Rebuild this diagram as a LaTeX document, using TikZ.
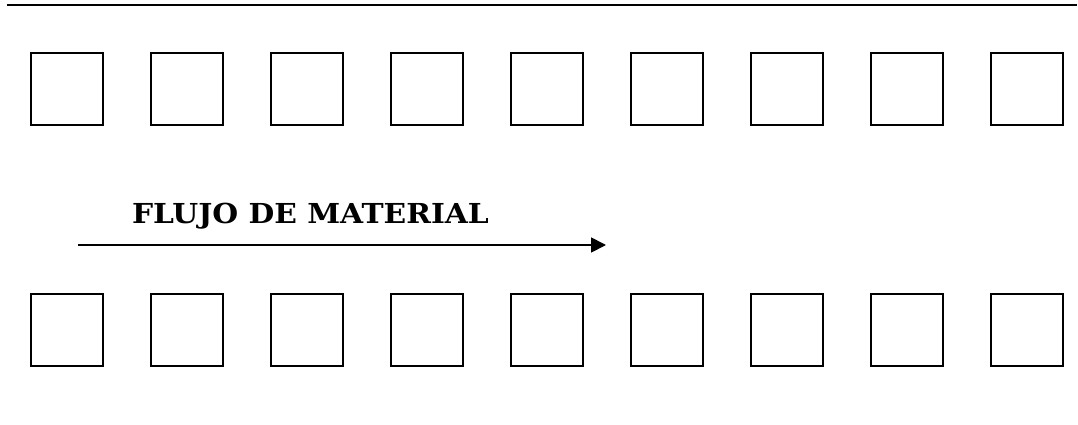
\documentclass[tikz,border=0pt]{standalone}
\usepackage{fontspec}
\newfontfamily\labelfont{DejaVu Serif}
\usetikzlibrary{arrows.meta}
\begin{document}
\begin{tikzpicture}[x=1pt,y=-1pt,
  station/.style={draw=black,line width=2pt,minimum width=72pt,minimum height=72pt,inner sep=0pt,fill=white},
  flowarrow/.style={line width=1.8pt,-{Triangle[length=15pt,width=15pt]}}]
\useasboundingbox (0,0) rectangle (1078,425);
\fill[white] (0,0) rectangle (1078,425);
\coordinate (tl) at (7,5);
\coordinate (tr) at (1077,5);
\draw[line width=2.4pt] (tl) -- (tr);
\foreach \i in {0,...,8}{
  \node[station] (t\i) at (66.5+120*\i,89.5) {};
  \node[station] (b\i) at (66.5+120*\i,329.5) {};
}
\node[anchor=base,inner sep=0pt,xscale=1.08,font=\labelfont\bfseries\fontsize{27.5}{32}\selectfont] (lbl) at (310.5,223) {FLUJO DE MATERIAL};
\coordinate (as) at (78,245);
\coordinate (ae) at (606,245);
\draw[flowarrow] (as) -- (ae);
\end{tikzpicture}
\end{document}
